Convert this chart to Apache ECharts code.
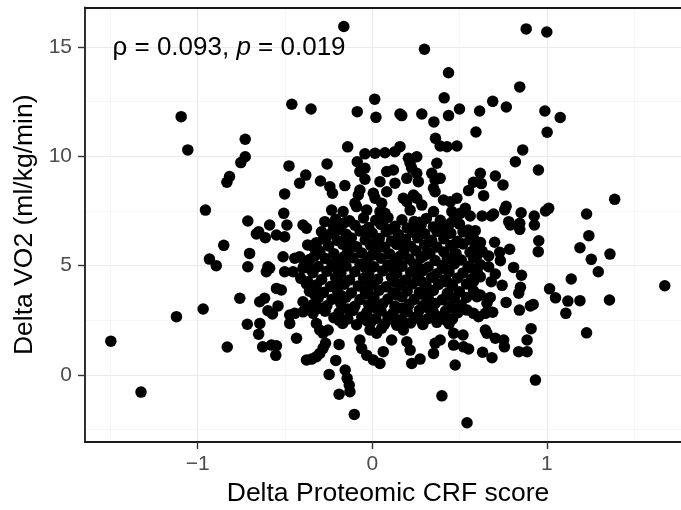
<!DOCTYPE html>
<html><head><meta charset="utf-8">
<script src="https://cdn.jsdelivr.net/npm/echarts@6/dist/echarts.min.js"></script>
<style>html,body{margin:0;padding:0;background:#fff}#c{width:681px;height:510px}</style>
</head><body><div id="c"></div>
<script>
// ---- data (Delta Proteomic CRF score, Delta VO2) ----
const crfA = [-0.163,0.299,0.437,0.412,0.500,0.437,0.353,0.284,0.169,0.159,0.021,0.014,-0.086,-0.351,-0.461,0.362,-0.141,0.159,0.389,0.428,0.485,-1.095,-1.057,-0.728,0.882,1.000,0.845,0.690,0.768,0.615,
0.989,1.077,0.594,1.002,0.862,
0.820,0.952,0.619,0.705,0.749,0.580,0.625,0.552,0.638,1.389,
1.011,0.993,1.228,0.767,0.759,0.853,0.533,0.561,0.629,0.682,
0.695,0.928,0.929,0.782,0.791,0.845,0.845,1.241,0.954,0.951,
1.190,1.362,1.255,0.590,0.580,0.701,0.787,0.730,0.734,0.667,
0.810,0.855,0.705,0.667,1.140,1.295,1.676,1.016,0.849,0.744,
0.619,0.682,1.050,1.121,1.190,1.359,1.109,1.228,0.922,0.906,
0.843,0.767,0.839,
0.619,0.600,0.676,0.657,0.543,0.580,0.609,0.648,0.690,0.910,
0.887,0.839,0.887,0.753,0.757,0.705,0.648,0.657,0.520,0.523,
0.552,0.632,0.686,0.935,0.543];
const vo2A = [15.93,14.89,13.82,12.67,12.16,11.86,11.57,11.93,11.86,11.93,11.78,12.61,12.04,12.16,12.38,10.82,10.43,10.44,10.47,10.44,10.47,11.81,10.29,10.78,15.82,15.68,13.17,12.51,12.25,12.07,
12.07,11.77,11.11,11.10,10.29,
9.75,9.37,9.22,9.10,8.69,8.81,8.75,8.43,8.20,8.03,
7.62,7.50,7.36,7.71,7.55,7.42,7.62,7.27,7.27,7.27,
7.36,7.27,6.86,7.01,6.86,6.94,6.66,6.37,6.14,5.64,
5.82,5.53,5.29,6.60,6.25,6.07,5.75,5.61,5.23,5.44,
4.92,4.56,4.62,4.95,4.39,4.72,4.08,3.94,4.01,4.10,
4.49,4.27,3.53,3.38,3.40,3.43,2.82,1.93,3.23,3.16,
2.97,3.32,3.74,
3.66,3.58,3.55,3.28,2.97,2.82,2.67,2.82,2.87,2.12,
1.60,1.07,1.07,1.60,1.29,1.68,2.06,1.91,1.83,1.29,
1.19,1.04,0.79,-0.23,-2.18];

const crfB = [-0.753,-0.728,-0.818,-0.833,-0.956,-0.713,-0.588,-0.651,-0.664,-0.613,
-0.549,-0.851,-0.703,-0.933,-0.894,-0.713,-0.598,-0.588,-0.607,-0.549,
-0.759,-0.645,-0.617,-0.540,-0.598,-0.572,-0.969,-1.122,-0.716,-0.644,
-0.651,-1.498,-0.831,-0.628,-0.578,-0.549,-0.553,-1.325];
const vo2B = [9.71,9.98,9.07,8.81,7.54,7.04,6.86,6.55,6.45,6.28,
6.40,5.93,5.56,5.30,5.00,4.95,4.95,4.88,4.72,3.96,
3.51,3.35,3.51,3.16,2.94,2.79,3.02,2.67,2.32,2.36,
1.87,1.55,1.28,1.29,1.37,1.34,0.90,-0.78];

const crfC = [-0.103,0.399,-0.190,-0.128,-0.132,-0.144,-0.155,-0.247,-0.209,-0.190,
-0.268,-0.282,-0.377,-0.348,-0.320,-0.301,-0.434,
-0.071,-0.061,-0.032,0.006,0.044,0.063,0.111,0.198,0.217,0.226,
0.274,0.351,0.360,0.389,0.475,0.466,
0.466,0.169,0.178,-0.013,0.025,0.054,-0.521,
-0.397,-0.377,-0.473,-0.444,-0.397,-0.358,-0.339,-0.473,-0.320,-0.301,-0.282,-0.253];
const vo2C = [-1.80,-0.95,-0.88,-0.76,-0.46,-0.15,0.23,0.03,0.67,1.40,
1.45,1.22,0.69,0.73,0.84,0.99,1.68,
1.60,1.22,0.91,0.69,0.53,1.07,1.60,1.52,1.14,0.53,
0.73,0.99,1.45,1.60,0.46,1.37,
1.91,2.29,2.06,2.06,1.91,2.14,3.89,
3.35,4.16,2.74,2.82,2.89,2.97,2.82,2.36,2.36,2.06,1.91,2.06];

const crfD = [-0.042,0.016,0.073,0.130,
-0.477,-0.259,-0.086,-0.071,-0.042,0.207,0.255,0.217,0.226,0.370,
0.083,0.121,-0.381,-0.416,-0.297,-0.243,-0.228,-0.157,-0.042,0.044,
0.130,0.198,0.255,0.264,0.341,0.360,0.389,0.351,0.360,-0.502,
-0.071,-0.080,0.006,0.016,0.083,0.178,0.198,0.236,0.255,0.408,
0.447,0.485,
-0.099,-0.090,0.054,-0.233,-0.167,-0.032,0.044,0.073,0.217,0.284,
0.351,0.456,0.504,
-0.507,-0.489,-0.397,-0.377,-0.272,-0.224,
-0.502,-0.291,-0.262,-0.511,-0.444,-0.416,-0.397,-0.502,-0.454,
-0.339,-0.310];
const vo2D = [10.11,10.14,10.16,10.21,
9.56,9.65,9.75,9.30,9.45,9.91,9.98,9.68,9.45,9.68,
9.30,9.37,9.14,8.77,8.87,8.61,8.31,8.66,8.95,8.84,
8.77,8.99,9.22,8.84,9.22,8.92,8.99,8.54,8.38,8.28,
8.46,8.23,8.31,8.08,8.38,8.08,7.92,8.23,8.08,8.00,
7.92,8.08,
7.85,7.70,7.85,7.54,7.47,7.54,7.47,7.39,7.54,7.77,
7.47,7.47,7.39,
7.39,6.86,6.86,6.71,7.01,6.86,
6.32,6.55,6.32,5.41,5.34,5.41,4.88,4.72,4.72,
5.87,5.72];

const crfE = [
-0.21,-0.13,-0.05,0.02,0.09,0.17,0.24,0.31,0.39,0.47,
-0.18,-0.10,-0.02,0.05,0.13,0.20,0.28,0.35,0.43,0.50,
-0.23,-0.15,-0.07,0.00,0.08,0.15,0.23,0.30,0.37,0.45,0.52,
-0.28,-0.20,-0.12,-0.04,0.04,0.11,0.19,0.26,0.34,0.41,0.49,0.56,
-0.37,-0.25,-0.17,-0.09,-0.01,0.07,0.14,0.22,0.30,0.37,0.45,0.52,0.59,
-0.30,-0.22,-0.14,-0.06,0.02,0.10,0.18,0.25,0.33,0.41,0.48,0.56,0.63,
-0.36,-0.27,-0.19,-0.11,-0.03,0.05,0.13,0.21,0.28,0.36,0.43,0.51,0.58,
-0.39,-0.31,-0.23,-0.15,-0.07,0.01,0.09,0.17,0.24,0.32,0.40,0.47,0.55,0.62,
-0.34,-0.26,-0.18,-0.10,-0.02,0.06,0.14,0.22,0.29,0.37,0.44,0.52,0.60,
-0.41,-0.29,-0.21,-0.13,-0.05,0.03,0.11,0.19,0.26,0.34,0.42,0.49,0.57,
-0.32,-0.24,-0.16,-0.08,0.00,0.08,0.16,0.23,0.31,0.38,0.46,0.54,
-0.36,-0.28,-0.20,-0.12,-0.04,0.04,0.12,0.20,0.27,0.35,0.43,0.50,0.58,
-0.31,-0.23,-0.15,-0.07,0.01,0.09,0.17,0.24,0.32,0.40,0.47,0.54,
-0.34,-0.26,-0.18,-0.10,-0.02,0.06,0.13,0.21,0.29,0.36,0.44,0.51,
-0.27,-0.19,-0.11,-0.03,0.05,0.12,0.20,0.27,0.35,0.42,0.49,
-0.22,-0.14,-0.06,0.02,0.09,0.17,0.24,0.32,0.39,0.46,
-0.17,-0.09,-0.01,0.07,0.14,0.22,0.29,0.37,0.44];
const vo2E = [
7.12,7.05,7.18,7.08,7.20,7.10,7.02,7.16,7.07,7.14,
6.78,6.85,6.74,6.88,6.80,6.72,6.86,6.77,6.84,6.90,
6.52,6.44,6.58,6.49,6.55,6.42,6.53,6.46,6.57,6.48,6.55,
6.22,6.15,6.27,6.18,6.24,6.13,6.21,6.28,6.16,6.23,6.12,6.20,
5.95,5.90,5.98,5.86,5.93,5.84,5.97,5.89,5.95,5.85,5.92,5.99,5.88,
5.62,5.55,5.66,5.58,5.64,5.53,5.60,5.68,5.56,5.63,5.55,5.61,5.66,
5.28,5.33,5.25,5.36,5.27,5.34,5.22,5.31,5.37,5.24,5.32,5.26,5.35,
5.02,4.96,5.05,4.98,5.07,4.95,5.03,4.97,5.06,4.94,5.01,5.08,4.97,5.04,
4.68,4.74,4.65,4.72,4.66,4.76,4.64,4.70,4.77,4.63,4.71,4.67,4.74,
4.42,4.37,4.45,4.35,4.43,4.38,4.47,4.34,4.41,4.46,4.36,4.44,4.39,
4.12,4.05,4.15,4.07,4.13,4.04,4.11,4.17,4.06,4.14,4.08,4.16,
3.83,3.77,3.86,3.75,3.82,3.88,3.76,3.84,3.78,3.87,3.74,3.81,3.85,
3.52,3.47,3.56,3.45,3.53,3.48,3.57,3.46,3.54,3.44,3.51,3.55,
3.22,3.17,3.25,3.14,3.21,3.26,3.15,3.23,3.18,3.27,3.13,3.20,
2.92,2.86,2.95,2.88,2.94,2.84,2.91,2.97,2.87,2.93,2.85,
2.62,2.56,2.65,2.58,2.66,2.55,2.63,2.59,2.67,2.57,
2.36,2.30,2.40,2.33,2.28,2.38,2.31,2.41,2.34];

const crfF = [
-0.16,0.06,0.27,0.45,
-0.19,-0.04,0.11,0.26,0.41,0.55,
-0.32,-0.13,0.02,0.18,0.33,0.48,0.62,
-0.33,-0.16,0.00,0.16,0.30,0.46,0.60,
-0.36,-0.20,-0.04,0.12,0.27,0.42,0.57,
-0.37,-0.19,-0.03,0.13,0.28,0.43,0.58,
-0.33,-0.18,-0.02,0.14,0.29,0.44,0.60,
-0.30,-0.14,0.02,0.17,0.32,0.47,
-0.19,-0.03,0.12,0.28,0.42];
const vo2F = [
6.96,6.93,6.98,6.95,
6.66,6.62,6.68,6.64,6.67,6.63,
6.05,6.02,6.08,6.04,6.07,6.03,6.06,
5.45,5.42,5.48,5.44,5.47,5.43,5.46,
4.87,4.84,4.90,4.86,4.89,4.85,4.88,
4.27,4.24,4.30,4.26,4.29,4.25,4.28,
3.67,3.64,3.70,3.66,3.69,3.65,3.68,
3.05,3.02,3.08,3.04,3.07,3.03,
2.50,2.47,2.53,2.49,2.52];

const xTicks = [-1, 0, 1];
const yTicks = [0, 5, 10, 15];
const xLimits = [-1.646, 1.769];
const yLimits = [-3.06, 16.80];
const xTitle = 'Delta Proteomic CRF score';
const yTitle = 'Delta VO2 (ml/kg/min)';
const annotRho = '0.093';
const annotP = '0.019';
const annotPos = [-1.5, 15];

// ---- build ----
const FONT = '"Liberation Sans", Arial, Helvetica, sans-serif';
function pairs(xs, ys) {
  if (xs.length !== ys.length) console.error('length mismatch', xs.length, ys.length);
  const n = Math.min(xs.length, ys.length);
  const out = [];
  for (let i = 0; i < n; i++) out.push([xs[i], ys[i]]);
  return out;
}
const points = [].concat(pairs(crfA, vo2A), pairs(crfB, vo2B), pairs(crfC, vo2C),
  pairs(crfD, vo2D), pairs(crfE, vo2E), pairs(crfF, vo2F));

const chart = echarts.init(document.getElementById('c'), null, { renderer: 'canvas' });
const borderStyle = { color: '#1a1a1a', width: 1.8 };
const majorGrid = { show: true, lineStyle: { color: '#EBEBEB', width: 1.2 } };
const minorGrid = { show: true, lineStyle: { color: '#F4F4F4', width: 0.8 } };
const minus = v => (v < 0 ? '\u2212' + Math.abs(v) : String(v));

chart.setOption({
  animation: false,
  backgroundColor: '#fff',
  grid: { left: 85, right: 0, top: 7.5, bottom: 68, containLabel: false, outerBoundsMode: 'none' },
  xAxis: [{
    type: 'value', min: xLimits[0], max: xLimits[1], splitNumber: 3,
    axisLine: { show: true, onZero: false, lineStyle: borderStyle },
    axisTick: { show: true, length: 7, customValues: xTicks, lineStyle: { color: '#333', width: 1.4 } },
    axisLabel: { show: true, customValues: xTicks, margin: 12, color: '#4D4D4D', fontSize: 21, fontFamily: FONT, formatter: minus },
    splitLine: majorGrid,
    minorTick: { show: false, splitNumber: 2 },
    minorSplitLine: minorGrid,
    name: xTitle, nameLocation: 'middle', nameGap: 36,
    nameTextStyle: { fontSize: 26.5, color: '#000', fontFamily: FONT, padding: [0, 0, 0, 10] }
  }, {
    type: 'value', position: 'top', min: xLimits[0], max: xLimits[1],
    axisLine: { show: true, onZero: false, lineStyle: borderStyle },
    axisTick: { show: false }, axisLabel: { show: false }, splitLine: { show: false }
  }],
  yAxis: [{
    type: 'value', min: yLimits[0], max: yLimits[1], splitNumber: 4,
    axisLine: { show: true, onZero: false, lineStyle: borderStyle },
    axisTick: { show: true, length: 7, customValues: yTicks, lineStyle: { color: '#333', width: 1.4 } },
    axisLabel: { show: true, customValues: yTicks, margin: 13, color: '#4D4D4D', fontSize: 21, fontFamily: FONT, formatter: minus },
    splitLine: majorGrid,
    minorTick: { show: false, splitNumber: 2 },
    minorSplitLine: minorGrid,
    name: yTitle, nameLocation: 'middle', nameGap: 44, nameRotate: 90,
    nameTextStyle: { fontSize: 26.5, color: '#000', fontFamily: FONT }
  }],
  series: [{
    type: 'scatter', xAxisIndex: 0, yAxisIndex: 0,
    data: points, symbol: 'circle', symbolSize: 11.5,
    itemStyle: { color: '#000', opacity: 1 },
    silent: true, z: 3
  }]
});

const p = chart.convertToPixel({ gridIndex: 0 }, annotPos);
chart.setOption({
  graphic: [{
    type: 'text', x: p[0] + 2, y: p[1] + 1, z: 10,
    style: {
      text: '{a|\u03c1 = ' + annotRho + ', }{b|p}{a| = ' + annotP + '}',
      verticalAlign: 'middle', align: 'left',
      rich: {
        a: { fontSize: 26, fontFamily: FONT, fill: '#000' },
        b: { fontSize: 26, fontFamily: FONT, fontStyle: 'italic', fill: '#000' }
      }
    }
  }]
});
</script>
</body></html>
